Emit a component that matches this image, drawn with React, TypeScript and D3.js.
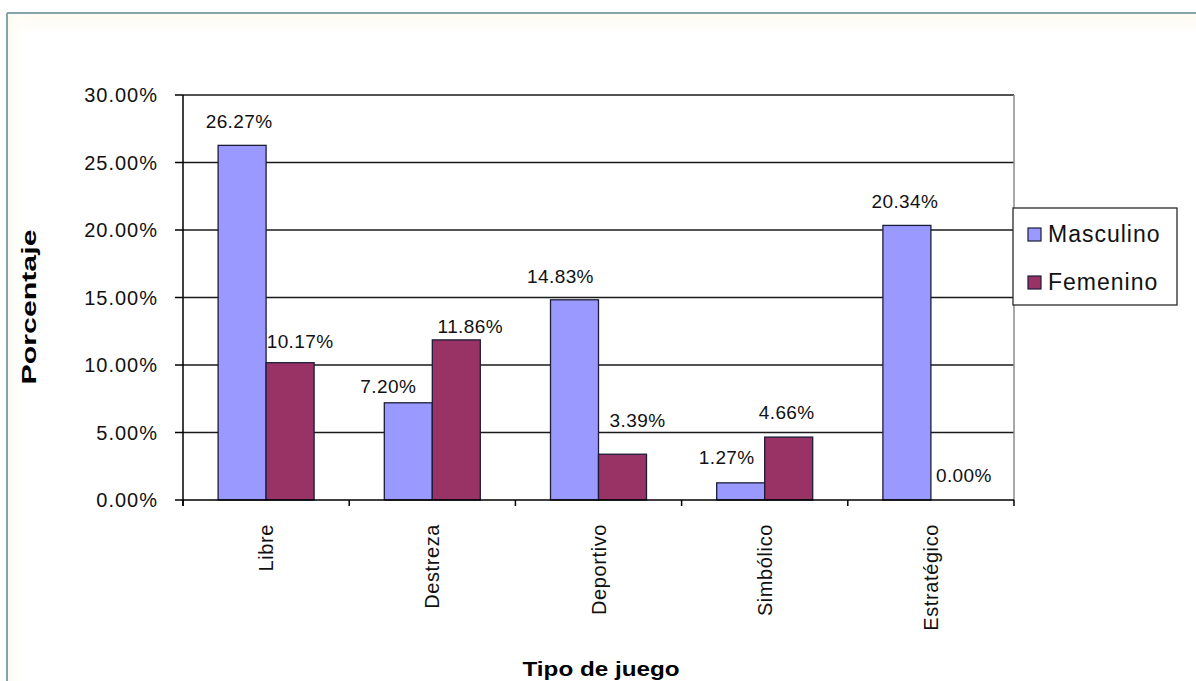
import React from "react";
import * as d3 from "d3";

// Chart data
const categories = ["Libre", "Destreza", "Deportivo", "Simbólico", "Estratégico"];
const seriesNames = ["Masculino", "Femenino"];
const masculino = [0.2627, 0.072, 0.1483, 0.0127, 0.2034];
const femenino = [0.1017, 0.1186, 0.0339, 0.0466, 0.0];
const yTicks = [0, 0.05, 0.1, 0.15, 0.2, 0.25, 0.3];

const seriesValues = [masculino, femenino];
const seriesColors = ["#9999FF", "#993366"];

// Data-label placement tweaks (dx from bar centre, gap above bar top), per series / category
const labelDx = [
  [-3, -20, -14, -14, -2],
  [10, 14, 15, -2, 9],
];
const labelGap = [
  [17, 10, 17, 19, 17],
  [15, 7, 27, 18, 18],
];

const W = 1196;
const H = 681;
const plot = { left: 183, right: 1014, top: 95, bottom: 500 };
const font = "'Liberation Sans', Arial, sans-serif";

export default function App() {
  const x0 = d3
    .scaleBand<string>()
    .domain(categories)
    .range([plot.left, plot.right])
    .padding(0);
  const bw = x0.bandwidth();
  const barW = 48;
  const x1 = d3
    .scaleBand<string>()
    .domain(seriesNames)
    .range([bw / 2 - barW, bw / 2 + barW])
    .padding(0);
  const y = d3.scaleLinear().domain([0, 0.3]).range([plot.bottom, plot.top]);
  const fmt = d3.format(".2%");

  const boundaries = d3.range(categories.length + 1).map((i) => plot.left + i * bw);

  return (
    <div style={{ position: "absolute", left: 0, top: 0 }}>
      <svg width={W} height={H} style={{ display: "block", background: "#fff" }}>
        <defs>
          <linearGradient id="frameTop" x1="0" y1="0" x2="0" y2="1">
            <stop offset="0" stopColor="#fdfbf1" />
            <stop offset="1" stopColor="#ffffff" />
          </linearGradient>
          <linearGradient id="frameLeft" x1="0" y1="0" x2="1" y2="0">
            <stop offset="0" stopColor="#fcfbf2" />
            <stop offset="1" stopColor="#ffffff" stopOpacity="0" />
          </linearGradient>
        </defs>

        {/* outer chart frame */}
        <rect x={8} y={14} width={W} height={22} fill="url(#frameTop)" />
        <rect x={8} y={14} width={22} height={H} fill="url(#frameLeft)" />
        <line x1={7} y1={13} x2={W} y2={13} stroke="#86a3ab" strokeWidth={2} />
        <line x1={7} y1={13} x2={7} y2={H} stroke="#86a3ab" strokeWidth={2} />

        {/* horizontal gridlines */}
        {yTicks.slice(1).map((t) => (
          <line
            key={"g" + t}
            x1={plot.left}
            x2={plot.right}
            y1={y(t)}
            y2={y(t)}
            stroke="#1a1a1a"
            strokeWidth={1.3}
          />
        ))}
        {/* plot area right border */}
        <line x1={plot.right} x2={plot.right} y1={plot.top} y2={plot.bottom} stroke="#8c8c8c" strokeWidth={1.5} />

        {/* bars */}
        {seriesNames.map((s, si) =>
          categories.map((c, ci) => {
            const v = seriesValues[si][ci];
            const bx = (x0(c) as number) + (x1(s) as number);
            return (
              <rect
                key={s + c}
                x={bx}
                y={y(v)}
                width={x1.bandwidth()}
                height={plot.bottom - y(v)}
                fill={seriesColors[si]}
                stroke="#1c1c38"
                strokeWidth={1.3}
              />
            );
          })
        )}

        {/* axes */}
        <line x1={plot.left} x2={plot.left} y1={plot.top} y2={plot.bottom + 6} stroke="#000" strokeWidth={1.5} />
        <line x1={plot.left} x2={plot.right} y1={plot.bottom} y2={plot.bottom} stroke="#000" strokeWidth={1.5} />
        {yTicks.map((t) => (
          <g key={"yt" + t}>
            <line x1={plot.left - 8} x2={plot.left} y1={y(t)} y2={y(t)} stroke="#000" strokeWidth={1.5} />
            <text
              x={158}
              y={y(t)}
              dy="0.36em"
              textAnchor="end"
              fontFamily={font}
              fontSize={20}
              letterSpacing={1}
              fill="#111"
            >
              {fmt(t)}
            </text>
          </g>
        ))}
        {boundaries.map((bx, i) => (
          <line key={"xt" + i} x1={bx} x2={bx} y1={plot.bottom} y2={plot.bottom + 6} stroke="#000" strokeWidth={1.5} />
        ))}

        {/* category labels */}
        {categories.map((c) => {
          const cx = (x0(c) as number) + bw / 2;
          const ty = 524;
          return (
            <text
              key={"c" + c}
              x={cx}
              y={ty}
              dy="0.36em"
              transform={`rotate(-90, ${cx}, ${ty})`}
              textAnchor="end"
              fontFamily={font}
              fontSize={20}
              letterSpacing={0.6}
              fill="#111"
            >
              {c}
            </text>
          );
        })}

        {/* data labels */}
        {seriesNames.map((s, si) =>
          categories.map((c, ci) => {
            const v = seriesValues[si][ci];
            const cx = (x0(c) as number) + (x1(s) as number) + x1.bandwidth() / 2 + labelDx[si][ci];
            return (
              <text
                key={"l" + s + c}
                x={cx}
                y={y(v) - labelGap[si][ci]}
                textAnchor="middle"
                fontFamily={font}
                fontSize={19}
                letterSpacing={0.4}
                fill="#111"
              >
                {fmt(v)}
              </text>
            );
          })
        )}

        {/* axis titles */}
        <text
          x={36}
          y={307}
          transform="rotate(-90, 36, 307)"
          textAnchor="middle"
          fontFamily={font}
          fontWeight="bold"
          fontSize={21}
          textLength={155}
          lengthAdjust="spacingAndGlyphs"
          fill="#000"
        >
          Porcentaje
        </text>
        <text
          x={601}
          y={676}
          textAnchor="middle"
          fontFamily={font}
          fontWeight="bold"
          fontSize={21}
          textLength={157}
          lengthAdjust="spacingAndGlyphs"
          fill="#000"
        >
          Tipo de juego
        </text>

        {/* legend */}
        <rect x={1013} y={208} width={164} height={97} fill="#fff" stroke="#2a2a2a" strokeWidth={1.3} />
        {seriesNames.map((s, si) => {
          const base = 242 + si * 48;
          return (
            <g key={"lg" + s}>
              <rect x={1028} y={base - 14} width={13} height={13} fill={seriesColors[si]} stroke="#1c1c38" strokeWidth={1.2} />
              <text x={1048} y={base} fontFamily={font} fontSize={23} letterSpacing={1} fill="#111">
                {s}
              </text>
            </g>
          );
        })}
      </svg>
    </div>
  );
}
